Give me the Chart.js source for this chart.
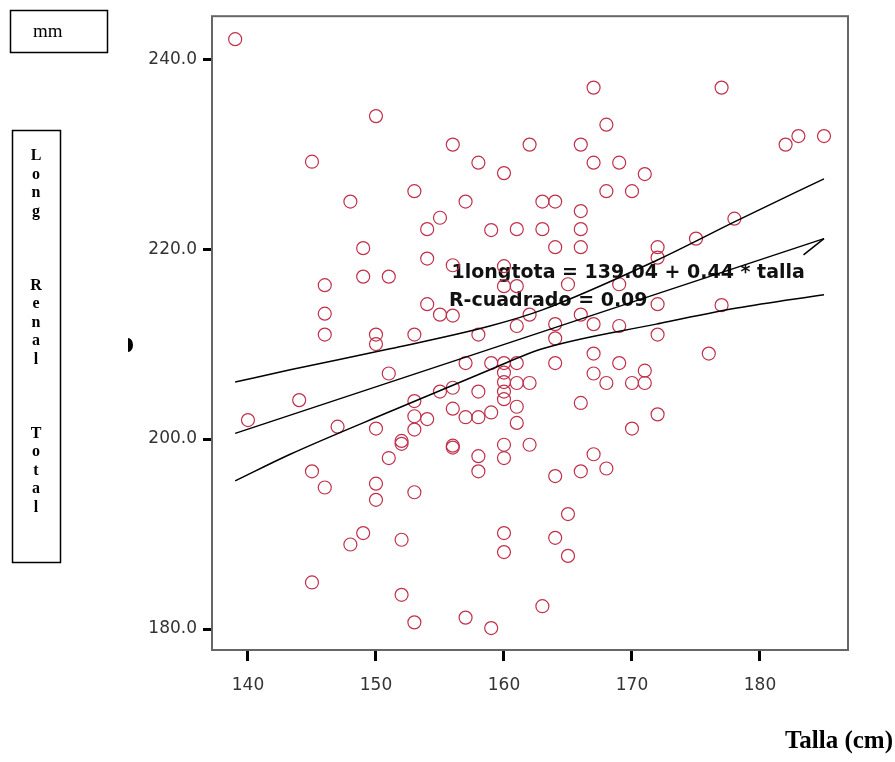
<!DOCTYPE html>
<html lang="es">
<head>
<meta charset="UTF-8">
<title>Long Renal Total vs Talla</title>
<script src="https://cdn.jsdelivr.net/npm/chart.js@4.4.0/dist/chart.umd.min.js"></script>
<style>
  html, body { margin: 0; padding: 0; background: #fff; }
  #wrap { position: relative; width: 895px; height: 762px; }
</style>
</head>
<body>
<div id="wrap"><canvas id="scatter" width="895" height="762"></canvas></div>
<script>
// talla (cm) and longitud renal total (mm), one entry per case
const talla = [
  139, 140, 144, 145, 145, 145, 146, 146, 146, 146, 147, 148, 148, 149, 149, 149,
  150, 150, 150, 150, 150, 150, 151, 151, 151, 152, 152, 152, 152,
  153, 153, 153, 153, 153, 153, 153, 154, 154, 154, 154, 155, 155, 155,
  156, 156, 156, 156, 156, 156, 156, 157, 157, 157, 157,
  158, 158, 158, 158, 158, 158, 159, 159, 159, 159,
  160, 160, 160, 160, 160, 160, 160, 160, 160, 160, 160, 160,
  161, 161, 161, 161, 161, 161, 161, 162, 162, 162, 162, 163, 163, 163,
  164, 164, 164, 164, 164, 164, 164, 165, 165, 165,
  166, 166, 166, 166, 166, 166, 166, 167, 167, 167, 167, 167, 167,
  168, 168, 168, 168, 169, 169, 169, 169, 170, 170, 170, 171, 171, 171,
  172, 172, 172, 172, 172, 175, 176, 177, 177, 178, 182, 183, 185
];
const longitud = [
  242.1, 202.0, 204.1, 229.2, 196.6, 184.9, 216.2, 213.2, 211.0, 194.9, 201.3, 225.0, 188.9, 220.1, 217.1, 190.1,
  234.0, 211.0, 210.0, 201.1, 195.3, 193.6, 217.1, 206.9, 198.0, 199.5, 199.8, 189.4, 183.6,
  226.1, 211.0, 204.0, 202.4, 201.0, 194.4, 180.7, 222.1, 219.0, 214.2, 202.1, 223.3, 213.1, 205.0,
  231.0, 218.3, 213.0, 205.4, 203.2, 199.1, 199.3, 225.0, 208.0, 202.3, 181.2,
  229.1, 211.0, 205.0, 202.3, 198.2, 196.6, 222.0, 208.0, 202.8, 180.1,
  228.0, 218.2, 216.1, 208.0, 207.0, 206.0, 205.0, 204.2, 199.4, 198.0, 190.1, 188.1,
  222.1, 216.1, 211.9, 208.0, 205.9, 203.4, 201.7, 231.0, 213.1, 205.9, 199.4, 225.0, 222.1, 182.4,
  225.0, 220.2, 212.1, 210.6, 208.0, 196.1, 189.6, 216.3, 192.1, 187.7,
  231.0, 224.0, 222.1, 220.2, 213.1, 203.8, 196.6, 237.0, 229.1, 212.1, 209.0, 206.9, 198.4,
  233.1, 226.1, 205.9, 196.9, 229.1, 216.3, 211.9, 208.0, 226.1, 205.9, 201.1, 227.9, 207.2, 205.9,
  220.2, 219.1, 214.2, 211.0, 202.6, 221.1, 209.0, 237.0, 214.1, 223.2, 231.0, 231.9, 231.9
];

// fitted line and mean confidence band
const fitX = [139, 185];
const fitY = [200.6, 221.1];
const bandX = [139, 143.3, 151.1, 158.9, 163, 171.9, 178.2, 185];
const bandUpper = [206.0, 207.3, 209.5, 211.9, 213.6, 218.8, 223.0, 227.4];
const bandLower = [195.6, 198.4, 202.9, 207.3, 209.5, 212.1, 213.8, 215.2];
const arrowX = [183.4, 185];
const arrowY = [219.4, 221.1];

const xTicks = [140, 150, 160, 170, 180];
const yTicks = [180, 200, 220, 240];

const eqLine1 = '1longtota = 139.04 + 0.44 * talla';
const eqLine2 = 'R-cuadrado = 0.09';
const yLetters = ['L', 'o', 'n', 'g', '', '', '', 'R', 'e', 'n', 'a', 'l', '', '', '', 'T', 'o', 't', 'a', 'l'];

const pairs = (xs, ys) => xs.map((v, i) => ({ x: v, y: ys[i] }));

const lineStyle = {
  type: 'line',
  borderColor: '#000',
  borderWidth: 1.5,
  pointRadius: 0,
  fill: false
};

const decor = {
  id: 'decor',
  beforeDatasetsDraw(chart) {
    const { ctx, scales: { x, y } } = chart;
    ctx.save();
    ctx.fillStyle = '#111';
    ctx.font = 'bold 19px "DejaVu Sans", Verdana, sans-serif';
    ctx.textAlign = 'left';
    ctx.textBaseline = 'middle';
    ctx.fillText(eqLine1, x.getPixelForValue(155.9), y.getPixelForValue(217.5));
    ctx.fillText(eqLine2, x.getPixelForValue(155.7), y.getPixelForValue(214.5));
    ctx.restore();
  },
  afterDraw(chart) {
    const { ctx, chartArea: a } = chart;
    ctx.save();
    // plot frame
    ctx.strokeStyle = '#666';
    ctx.lineWidth = 2;
    ctx.strokeRect(a.left, a.top, a.right - a.left, a.bottom - a.top);

    // unit box
    ctx.strokeStyle = '#000';
    ctx.lineWidth = 1.5;
    ctx.strokeRect(10.5, 10.5, 97, 42);
    ctx.fillStyle = '#000';
    ctx.font = '19px "Liberation Serif", "Times New Roman", serif';
    ctx.textAlign = 'left';
    ctx.textBaseline = 'middle';
    ctx.fillText('mm', 33, 32);

    // vertical axis title box
    ctx.strokeRect(12.5, 130.5, 48, 432);
    ctx.font = 'bold 16px "Liberation Serif", "Times New Roman", serif';
    ctx.textAlign = 'center';
    yLetters.forEach((ch, i) => {
      if (ch) ctx.fillText(ch, 36, 156 + i * 18.5);
    });

    // clipped glyph left of the axis
    ctx.beginPath();
    ctx.ellipse(128, 345, 5, 7, 0, -Math.PI / 2, Math.PI / 2);
    ctx.fill();

    // x axis title
    ctx.font = 'bold 25px "Liberation Serif", "Times New Roman", serif';
    ctx.textAlign = 'right';
    ctx.textBaseline = 'alphabetic';
    ctx.fillText('Talla (cm)', 893, 748);
    ctx.restore();
  }
};

new Chart(document.getElementById('scatter'), {
  data: {
    datasets: [
      Object.assign({ data: pairs(bandX, bandUpper), cubicInterpolationMode: 'monotone' }, lineStyle),
      Object.assign({ data: pairs(bandX, bandLower), cubicInterpolationMode: 'monotone' }, lineStyle),
      Object.assign({ data: pairs(fitX, fitY), tension: 0 }, lineStyle),
      Object.assign({ data: pairs(arrowX, arrowY), tension: 0 }, lineStyle),
      {
        type: 'scatter',
        data: pairs(talla, longitud),
        pointStyle: 'circle',
        pointRadius: 6.5,
        pointHoverRadius: 6.5,
        borderWidth: 1.2,
        borderColor: '#c0304a',
        backgroundColor: 'rgba(0,0,0,0)'
      }
    ]
  },
  options: {
    responsive: false,
    animation: false,
    layout: { padding: { top: 15, right: 47, left: 0, bottom: 0 } },
    plugins: { legend: { display: false }, tooltip: { enabled: false } },
    scales: {
      x: {
        type: 'linear',
        min: 137.19,
        max: 186.875,
        afterBuildTicks: s => { s.ticks = xTicks.map(v => ({ value: v })); },
        afterFit: s => { s.height = 112; },
        ticks: {
          color: '#333',
          font: { family: '"DejaVu Sans", sans-serif', size: 17 },
          padding: 14,
          maxRotation: 0,
          autoSkip: false
        },
        grid: { drawOnChartArea: false, tickLength: 11, tickWidth: 3, tickColor: '#000' },
        border: { display: false }
      },
      y: {
        type: 'linear',
        min: 177.79,
        max: 244.52,
        afterBuildTicks: s => { s.ticks = yTicks.map(v => ({ value: v })); },
        afterFit: s => { s.width = 212; },
        ticks: {
          color: '#333',
          font: { family: '"DejaVu Sans", sans-serif', size: 17 },
          padding: 6,
          callback: v => v.toFixed(1)
        },
        grid: { drawOnChartArea: false, tickLength: 9, tickWidth: 3, tickColor: '#000' },
        border: { display: false }
      }
    }
  },
  plugins: [decor]
});
</script>
</body>
</html>
